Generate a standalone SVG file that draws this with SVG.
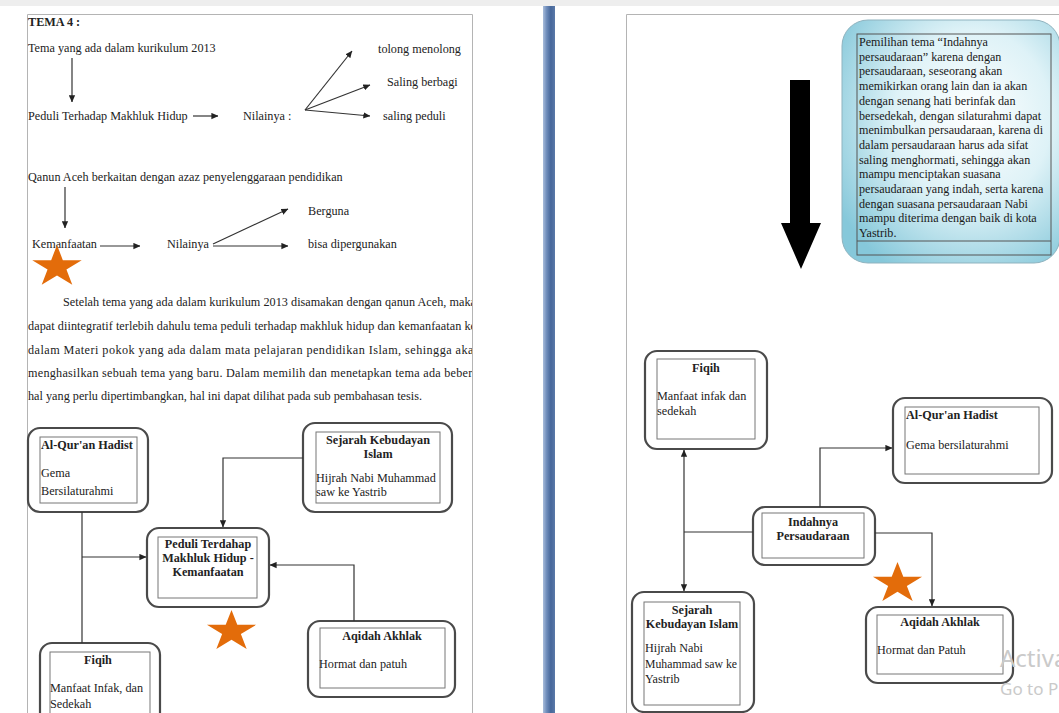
<svg xmlns="http://www.w3.org/2000/svg" width="1059" height="713" viewBox="0 0 1059 713">
<style>
.t{font-family:"Liberation Serif","Times New Roman",serif;font-size:12.2px;fill:#222}
.b{font-weight:bold}
.m{text-anchor:middle}
.pg{fill:none;stroke:#b4b4b4;stroke-width:1}
.ob{fill:#fff;stroke:#4a4a4a;stroke-width:2.2}
.ib{fill:none;stroke:#777;stroke-width:1}
.c{fill:none;stroke:#333;stroke-width:1.2}
.s{fill:#e36c0a}
.ct{font-family:"Liberation Serif","Times New Roman",serif;font-size:12.1px;fill:#1a1a1a}
.wm{font-family:"Noto Sans","Open Sans",sans-serif;fill:#cacaca}
</style>
<defs>
<path id="star" d="M0,-1 L0.225,-0.309 L0.951,-0.309 L0.363,0.118 L0.588,0.809 L0,0.382 L-0.588,0.809 L-0.363,0.118 L-0.951,-0.309 L-0.225,-0.309 Z"/>
<marker id="a" viewBox="0 0 10 10" refX="9.5" refY="5" markerWidth="7" markerHeight="7" markerUnits="userSpaceOnUse" orient="auto"><path d="M0,0.5 L10,5 L0,9.5 Z" fill="#222"/></marker>
<linearGradient id="bar" x1="0" y1="0" x2="1" y2="0"><stop offset="0" stop-color="#a9bddb"/><stop offset="0.3" stop-color="#6f8dbb"/><stop offset="0.65" stop-color="#46679a"/><stop offset="1" stop-color="#5a79a8"/></linearGradient>
<radialGradient id="cg" cx="0.6" cy="0.4" r="0.72"><stop offset="0" stop-color="#ffffff"/><stop offset="0.5" stop-color="#def2f7"/><stop offset="1" stop-color="#86c8da"/></radialGradient>
<clipPath id="lp"><rect x="27" y="14" width="445" height="699"/></clipPath>
</defs>

<rect x="0" y="0" width="1059" height="713" fill="#fff"/>
<rect x="0" y="0" width="1059" height="6" fill="#eeeeee"/>

<g id="pages">
<path class="pg" d="M27.5,713 V14.5 H472.5 V713"/>
<path class="pg" d="M626.5,713 V14.5 H1059"/>
<rect x="543" y="6" width="12" height="707" fill="url(#bar)"/>
</g>

<g id="tema">
<text class="t b" x="28" y="26">TEMA 4 :</text>
<text class="t" x="28" y="52">Tema yang ada dalam kurikulum 2013</text>
<text class="t" x="28" y="120">Peduli Terhadap Makhluk Hidup</text>
<text class="t" x="243" y="120">Nilainya :</text>
<text class="t" x="378" y="53">tolong menolong</text>
<text class="t" x="387" y="86">Saling berbagi</text>
<text class="t" x="383" y="120">saling peduli</text>
<text class="t" x="28" y="181">Qanun Aceh berkaitan dengan azaz penyelenggaraan pendidikan</text>
<text class="t" x="32" y="248">Kemanfaatan</text>
<text class="t" x="167" y="248">Nilainya</text>
<text class="t" x="308" y="215">Berguna</text>
<text class="t" x="308" y="248">bisa dipergunakan</text>
</g>

<g id="paragraph" clip-path="url(#lp)">
<text class="t" x="63" y="306" textLength="413" lengthAdjust="spacing">Setelah tema yang ada dalam kurikulum 2013 disamakan dengan qanun Aceh, maka</text>
<text class="t" x="28" y="330" textLength="448" lengthAdjust="spacing">dapat diintegratif terlebih dahulu tema peduli terhadap makhluk hidup dan kemanfaatan ke</text>
<text class="t" x="28" y="354" textLength="452" lengthAdjust="spacing">dalam Materi pokok yang ada dalam mata pelajaran pendidikan Islam, sehingga akan</text>
<text class="t" x="28" y="377" textLength="462" lengthAdjust="spacing">menghasilkan sebuah tema yang baru. Dalam memilih dan menetapkan tema ada beberapa</text>
<text class="t" x="28" y="400" textLength="394" lengthAdjust="spacing">hal yang perlu dipertimbangkan, hal ini dapat dilihat pada sub pembahasan tesis.</text>
</g>

<g id="l-quran">
<rect class="ob" x="28" y="428" width="120" height="84" rx="12"/>
<rect class="ib" x="40" y="437" width="97" height="66"/>
<text class="t b" x="41" y="449">Al-Qur'an Hadist</text>
<text class="t" x="41" y="477">Gema</text>
<text class="t" x="41" y="495">Bersilaturahmi</text>
</g>
<g id="l-sejarah">
<rect class="ob" x="303" y="423" width="149" height="89" rx="12"/>
<rect class="ib" x="316" y="432" width="124" height="71"/>
<text class="t b m" x="378" y="444">Sejarah Kebudayan</text>
<text class="t b m" x="378" y="458">Islam</text>
<text class="t" x="316" y="482">Hijrah Nabi Muhammad</text>
<text class="t" x="316" y="496">saw ke Yastrib</text>
</g>
<g id="l-peduli">
<rect class="ob" x="147" y="528" width="122" height="79" rx="12"/>
<rect class="ib" x="158" y="537" width="99" height="61"/>
<text class="t b m" x="208" y="548">Peduli Terdahap</text>
<text class="t b m" x="208" y="562">Makhluk Hidup -</text>
<text class="t b m" x="208" y="576">Kemanfaatan</text>
</g>
<g id="l-aqidah">
<rect class="ob" x="308" y="621" width="147" height="76" rx="12"/>
<rect class="ib" x="320" y="628" width="125" height="60"/>
<text class="t b m" x="382" y="640">Aqidah Akhlak</text>
<text class="t" x="319" y="668">Hormat dan patuh</text>
</g>
<g id="l-fiqih">
<rect class="ob" x="40" y="643" width="120" height="84" rx="12"/>
<rect class="ib" x="50" y="652" width="100" height="70"/>
<text class="t b m" x="98" y="664">Fiqih</text>
<text class="t" x="50" y="692">Manfaat Infak, dan</text>
<text class="t" x="50" y="708">Sedekah</text>
</g>

<g id="callout">
<rect x="842" y="20" width="218" height="243" rx="26" fill="url(#cg)" stroke="#8fb3bf" stroke-width="1"/>
<rect x="857" y="34" width="194" height="221" fill="none" stroke="#555" stroke-width="1"/>
<line x1="857" y1="241" x2="1051" y2="241" stroke="#555" stroke-width="1"/>
<text class="ct" x="859" y="46">Pemilihan tema “Indahnya</text>
<text class="ct" x="859" y="60.7">persaudaraan” karena dengan</text>
<text class="ct" x="859" y="75.4">persaudaraan, seseorang akan</text>
<text class="ct" x="859" y="90.1">memikirkan orang lain dan ia akan</text>
<text class="ct" x="859" y="104.8">dengan senang hati berinfak dan</text>
<text class="ct" x="859" y="119.5">bersedekah, dengan silaturahmi dapat</text>
<text class="ct" x="859" y="134.2">menimbulkan persaudaraan, karena di</text>
<text class="ct" x="859" y="148.9">dalam persaudaraan harus ada sifat</text>
<text class="ct" x="859" y="163.6">saling menghormati, sehingga akan</text>
<text class="ct" x="859" y="178.3">mampu menciptakan suasana</text>
<text class="ct" x="859" y="193">persaudaraan yang indah, serta karena</text>
<text class="ct" x="859" y="207.7">dengan suasana persaudaraan Nabi</text>
<text class="ct" x="859" y="222.4">mampu diterima dengan baik di kota</text>
<text class="ct" x="859" y="237.1">Yastrib.</text>
</g>
<g id="big-arrow">
<polygon points="790,80 810,80 810,223 821,223 801,269 781,223 790,223" fill="#000"/>
</g>

<g id="r-fiqih">
<rect class="ob" x="645" y="351" width="122" height="98" rx="12"/>
<rect class="ib" x="657" y="359" width="98" height="80"/>
<text class="t b m" x="706" y="372">Fiqih</text>
<text class="t" x="657" y="400">Manfaat infak dan</text>
<text class="t" x="657" y="415">sedekah</text>
</g>
<g id="r-quran">
<rect class="ob" x="893" y="398" width="159" height="85" rx="12"/>
<rect class="ib" x="905" y="407" width="134" height="67"/>
<text class="t b" x="906" y="419">Al-Qur'an Hadist</text>
<text class="t" x="906" y="449">Gema bersilaturahmi</text>
</g>
<g id="r-indah">
<rect class="ob" x="753" y="507" width="122" height="58" rx="12"/>
<rect class="ib" x="762" y="513" width="102" height="45"/>
<text class="t b m" x="813" y="526">Indahnya</text>
<text class="t b m" x="813" y="540">Persaudaraan</text>
</g>
<g id="r-sejarah">
<rect class="ob" x="632" y="592" width="122" height="120" rx="12"/>
<rect class="ib" x="644" y="602" width="96" height="103"/>
<text class="t b m" x="692" y="614">Sejarah</text>
<text class="t b m" x="692" y="628">Kebudayan Islam</text>
<text class="t" x="645" y="652">Hijrah Nabi</text>
<text class="t" x="645" y="668" textLength="92" lengthAdjust="spacingAndGlyphs">Muhammad saw ke</text>
<text class="t" x="645" y="683">Yastrib</text>
</g>
<g id="r-aqidah">
<rect class="ob" x="866" y="607" width="147" height="76" rx="12"/>
<rect class="ib" x="877" y="615" width="126" height="59"/>
<text class="t b m" x="940" y="626">Aqidah Akhlak</text>
<text class="t" x="877" y="654">Hormat dan Patuh</text>
</g>

<g id="connectors">
<path class="c" d="M72,58 V102" marker-end="url(#a)"/>
<path class="c" d="M193,116 H218" marker-end="url(#a)"/>
<path class="c" d="M305,110 L352,51" marker-end="url(#a)"/>
<path class="c" d="M305,110 L370,85" marker-end="url(#a)"/>
<path class="c" d="M305,110 L370,116" marker-end="url(#a)"/>
<path class="c" d="M65,187 V228" marker-end="url(#a)"/>
<path class="c" d="M100,246 H140" marker-end="url(#a)"/>
<path class="c" d="M213,244 L288,209" marker-end="url(#a)"/>
<path class="c" d="M213,246 H288" marker-end="url(#a)"/>

<path class="c" d="M303,458 H223 V527" marker-end="url(#a)"/>
<path class="c" d="M82,512 V643"/>
<path class="c" d="M82,557 H146" marker-end="url(#a)"/>
<path class="c" d="M354,621 V565 H270" marker-end="url(#a)"/>

<path class="c" d="M820,507 V448 H892" marker-end="url(#a)"/>
<path class="c" d="M753,532 H684"/>
<path class="c" d="M684,532 V450" marker-end="url(#a)"/>
<path class="c" d="M684,532 V591" marker-end="url(#a)"/>
<path class="c" d="M875,533 H932 V606" marker-end="url(#a)"/>
</g>

<g id="stars">
<use href="#star" class="s" transform="translate(57,267) scale(26,22)"/>
<use href="#star" class="s" transform="translate(231.5,631.5) scale(25.8,21.5)"/>
<use href="#star" class="s" transform="translate(897.5,583.5) scale(25.8,21.5)"/>
</g>

<g id="watermark">
<text class="wm" x="1000" y="667" font-size="24">Activa</text>
<text class="wm" x="1000" y="695" font-size="17">Go to P</text>
</g>
</svg>
